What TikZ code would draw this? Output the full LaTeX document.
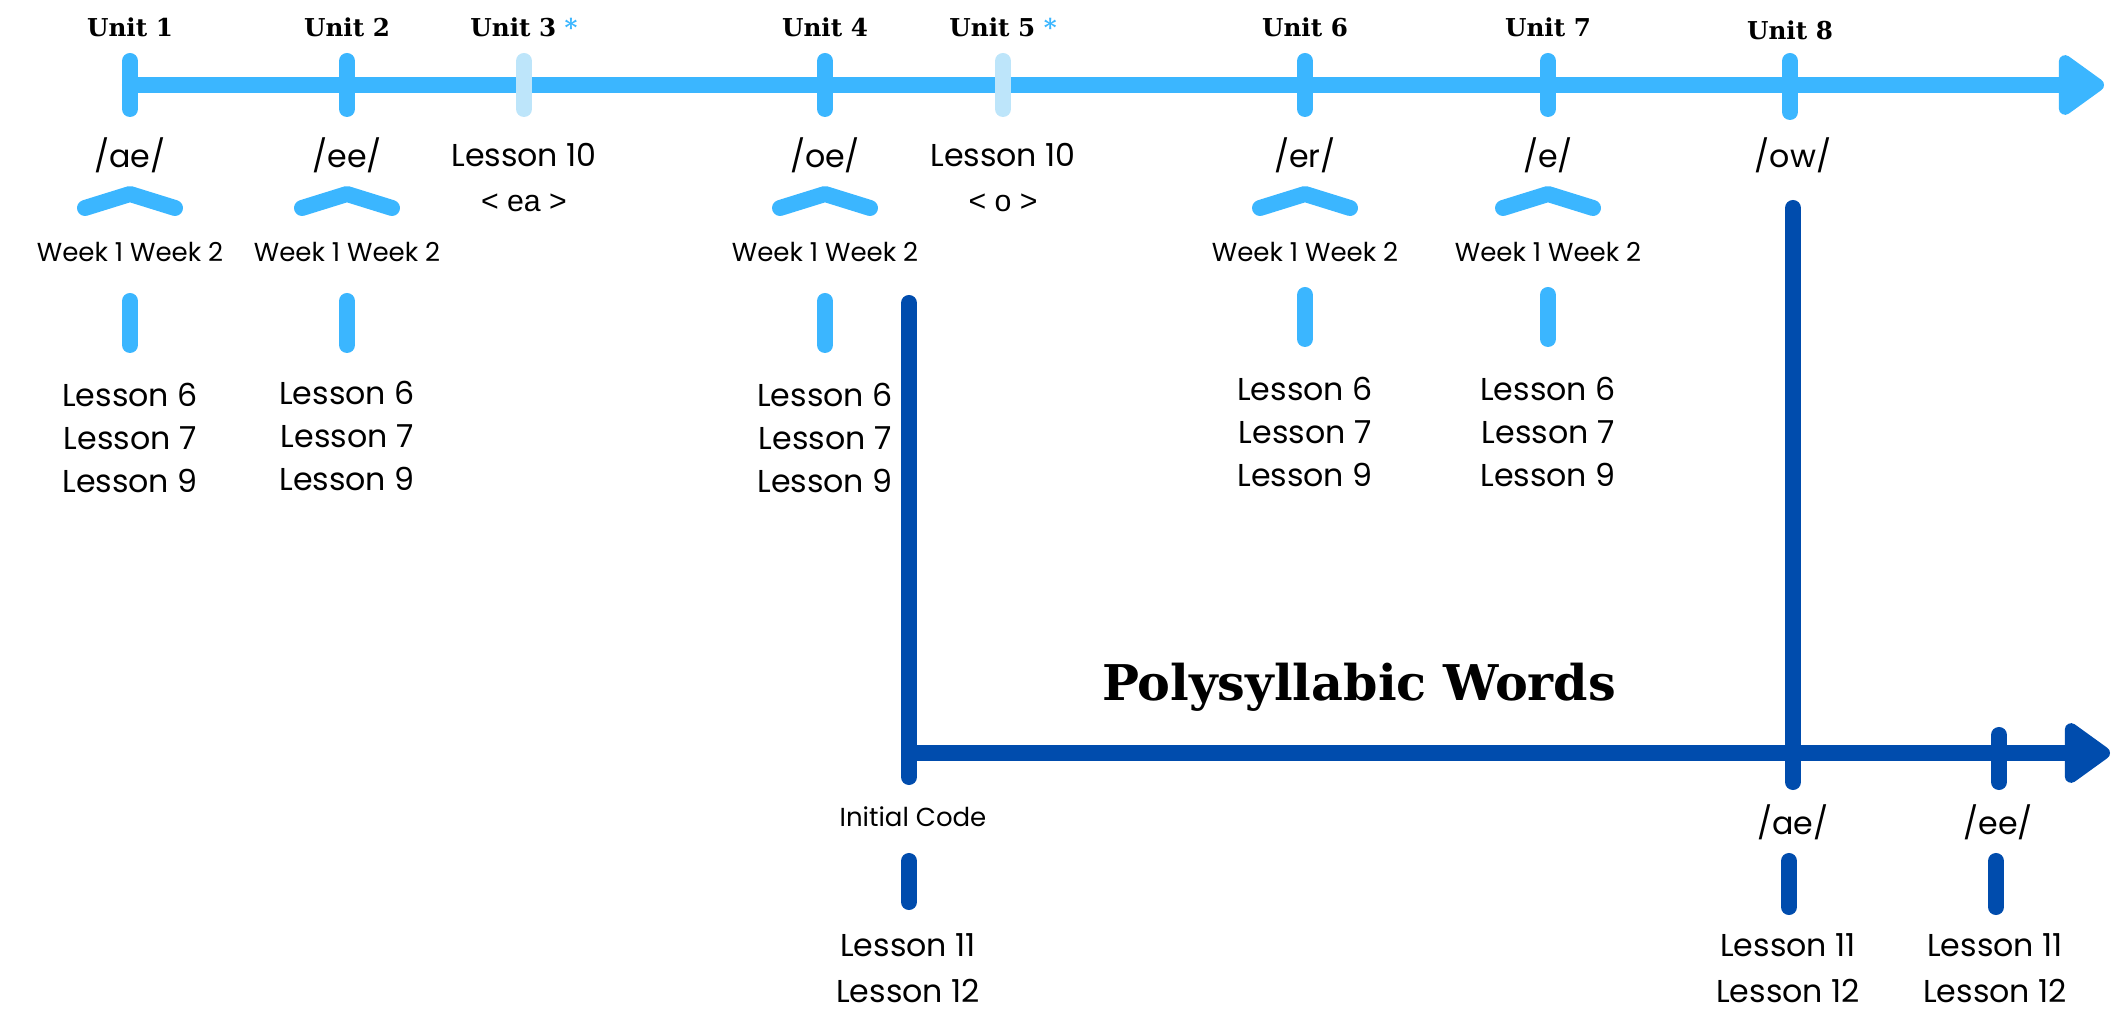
\documentclass[tikz,border=0pt]{standalone}
\usepackage{fontspec}
\setmainfont{Poppins}
\newfontfamily\slabfont{DejaVu Serif}
\newfontfamily\signfont{Liberation Sans}
\usetikzlibrary{arrows.meta}
\definecolor{sky}{HTML}{3BB6FF}
\definecolor{pale}{HTML}{BDE5FA}
\definecolor{navy}{HTML}{004CAD}

\begin{document}
\begin{tikzpicture}[x=0.01cm,y=-0.01cm,
  every node/.style={inner sep=0pt},
  unit/.style={font=\slabfont\bfseries\fontsize{7}{8}\selectfont},
  title/.style={font=\slabfont\bfseries\fontsize{14}{16}\selectfont},
  txt/.style={font=\fontsize{9}{12.2}\selectfont, align=center},
  small/.style={font=\fontsize{7.4}{9}\selectfont},
  sign/.style={font=\signfont\fontsize{8.6}{10}\selectfont},
  bar/.style={line width=0.16cm, line cap=round, line join=round},
  tip/.style={-{Triangle[length=0.5cm,width=0.68cm,round]}}]
\useasboundingbox (0,0) rectangle (2118,1013);

% unit names
\node[unit] (u1) at (130,27) {Unit 1};
\node[unit] (u2) at (347,27) {Unit 2};
\node[unit] (u3) at (524,27) {Unit 3 \textcolor{sky}{*}};
\node[unit] (u4) at (825,27) {Unit 4};
\node[unit] (u5) at (1003,27) {Unit 5 \textcolor{sky}{*}};
\node[unit] (u6) at (1305,27) {Unit 6};
\node[unit] (u7) at (1548,27) {Unit 7};
\node[unit] (u8) at (1790,30) {Unit 8};

% top time line
\coordinate (top0) at (130,85);
\coordinate (top1) at (2104,85);
\draw[bar, sky, tip] (top0) -- (top1);
\draw[bar, sky] (130,61) -- (130,109);
\draw[bar, sky] (347,61) -- (347,109);
\draw[bar, pale] (524,61) -- (524,109);
\draw[bar, sky] (825,61) -- (825,109);
\draw[bar, pale] (1003,61) -- (1003,109);
\draw[bar, sky] (1305,61) -- (1305,109);
\draw[bar, sky] (1548,61) -- (1548,109);
\draw[bar, sky] (1790,61) -- (1790,112);

% units with two weeks
\foreach \i/\x/\ta/\tb/\ly/\ph in {1/130/301/345/438/ae, 2/347/301/345/436/ee,
    4/825/301/345/438/oe, 6/1305/295/339/432/er, 7/1548/295/339/432/e} {
  \node[txt] (ph\i) at (\x,155) {/\ph/};
  \draw[bar, sky] (\x-45,208) -- (\x,194) -- (\x+45,208);
  \node[small] (wk\i) at (\x,252) {Week 1 Week 2};
  \draw[bar, sky] (\x,\ta) -- (\x,\tb);
  \node[txt] (ls\i) at (\x,\ly) {Lesson 6\\Lesson 7\\Lesson 9};
}

% single lessons
\node[txt] (l3) at (524,155) {Lesson 10};
\node[sign] (g3) at (524,203) {< ea >};
\node[txt] (l5) at (1003,155) {Lesson 10};
\node[sign] (g5) at (1003,203) {< o >};
\node[txt] (ph8) at (1793,155) {/ow/};

% polysyllabic words
\node[title] (poly) at (1359,687) {Polysyllabic Words};
\coordinate (bot0) at (909,753);
\coordinate (bot1) at (2110,753);
\draw[bar, navy] (909,303) -- (909,777);
\draw[bar, navy, tip] (bot0) -- (bot1);
\draw[bar, navy] (1793,208) -- (1793,782);
\draw[bar, navy] (1999,735) -- (1999,782);

\node[small] (init) at (913,817) {Initial Code};
\node[txt] (pae) at (1793,822) {/ae/};
\node[txt] (pee) at (1998,822) {/ee/};
\draw[bar, navy] (909,861) -- (909,902);
\draw[bar, navy] (1789,861) -- (1789,907);
\draw[bar, navy] (1996,861) -- (1996,907);
\node[txt, font=\fontsize{9}{13}\selectfont] (lb1) at (908,968) {Lesson 11\\Lesson 12};
\node[txt, font=\fontsize{9}{13}\selectfont] (lb2) at (1788,968) {Lesson 11\\Lesson 12};
\node[txt, font=\fontsize{9}{13}\selectfont] (lb3) at (1995,968) {Lesson 11\\Lesson 12};
\end{tikzpicture}
\end{document}
